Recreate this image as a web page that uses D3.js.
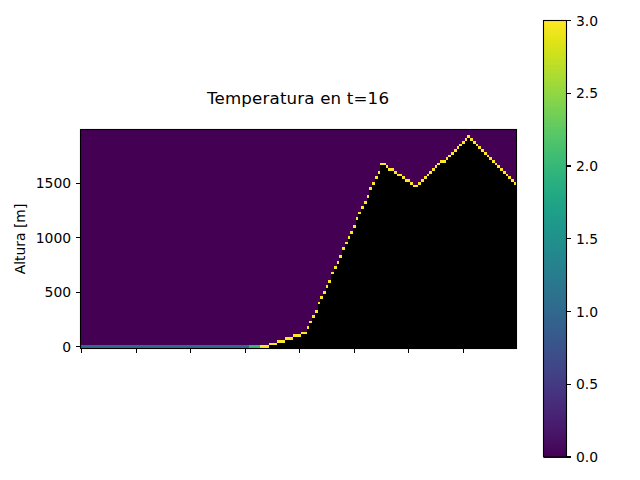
<!DOCTYPE html>
<html>
<head>
<meta charset="utf-8">
<script src="https://d3js.org/d3.v7.min.js"></script>
<style>
  html, body { margin: 0; padding: 0; background: #fff; }
  text { font-family: "DejaVu Sans", sans-serif; fill: #000; }
</style>
</head>
<body>
<svg id="chart" width="640" height="480"></svg>
<script>
// row index of the ground surface in each of the 160 columns
var surfaceRow = [
  0,0,0,0,0,0,0,0,0,0,0,0,0,0,0,0,0,0,0,0,
  0,0,0,0,0,0,0,0,0,0,0,0,0,0,0,0,0,0,0,0,
  0,0,0,0,0,0,0,0,0,0,0,0,0,0,0,0,0,0,0,0,
  0,0,0,0,0,0,0,0,0,1,1,1,2,2,2,3,3,3,4,4,
  4,5,5,7,9,11,13,16,18,20,22,24,27,29,31,33,36,38,40,42,
  44,47,49,51,53,55,58,60,62,64,67,67,66,65,65,64,63,63,62,61,
  61,60,59,59,60,61,62,63,64,65,66,67,68,68,69,70,71,72,73,74,
  75,76,77,76,75,74,73,72,71,70,69,68,67,66,65,64,63,62,61,60
];
// temperature of the surface cell in each column
var surfaceTemp = [
  1,1,1,1,1,1,1,1,1,1,1,1,1,1,1,1,1,1,1,1,
  1,1,1,1,1,1,1,1,1,1,1,1,1,1,1,1,1,1,1,1,
  1,1,1,1,1,1,1,1,1,1,1,1,1,1,1,1,1,1,1,1,
  1,1,2,2,2,2,3,3,3,3,3,3,3,3,3,3,3,3,3,3,
  3,3,3,3,3,3,3,3,3,3,3,3,3,3,3,3,3,3,3,3,
  3,3,3,3,3,3,3,3,3,3,3,3,3,3,3,3,3,3,3,3,
  3,3,3,3,3,3,3,3,3,3,3,3,3,3,3,3,3,3,3,3,
  3,3,3,3,3,3,3,3,3,3,3,3,3,3,3,3,3,3,3,3
];
var airTemp = 0;
var nRows = 80;
var cellSize = 25; // metres per row

var xTicks = [0, 20, 40, 60, 80, 100, 120, 140];
var yTicks = [0, 500, 1000, 1500];
var cbarTicks = [0, 0.5, 1, 1.5, 2, 2.5, 3];
var titleText = "Temperatura en t=16";
var yLabel = "Altura [m]";

var svg = d3.select("#chart");

var x = d3.scaleLinear().domain([-0.5, 159.5]).range([80.5, 516.5]);
var y = d3.scaleLinear().domain([-0.5 * cellSize, (nRows - 0.5) * cellSize]).range([348, 130]);
var color = d3.scaleSequential(d3.interpolateViridis).domain([0, 3]);

// heat map, one rect per cell
var cells = [];
surfaceRow.forEach(function(top, col) {
  d3.range(nRows).forEach(function(row) {
    var fill;
    if (row > top) fill = color(airTemp);
    else if (row == top) fill = color(surfaceTemp[col]);
    else fill = "#000";
    cells.push({col: col, row: row, fill: fill});
  });
});

svg.append("g")
  .attr("shape-rendering", "crispEdges")
  .selectAll("rect")
  .data(cells)
  .enter().append("rect")
  .attr("x", function(d) { return x(d.col - 0.5); })
  .attr("width", function(d) { return x(d.col + 0.5) - x(d.col - 0.5); })
  .attr("y", function(d) { return y((d.row + 0.5) * cellSize); })
  .attr("height", function(d) { return y((d.row - 0.5) * cellSize) - y((d.row + 0.5) * cellSize); })
  .attr("fill", function(d) { return d.fill; });

// frame of the map, half a pixel outside the image
svg.append("rect")
  .attr("x", x.range()[0]).attr("y", y.range()[1] - 0.5)
  .attr("width", x.range()[1] - x.range()[0])
  .attr("height", y.range()[0] - y.range()[1] + 1)
  .attr("fill", "none").attr("stroke", "#000").attr("stroke-width", 1.1);

function styleAxis(g) {
  g.select(".domain").remove();
  g.selectAll("line").attr("stroke", "#000").attr("stroke-width", 1.1).attr("shape-rendering", "crispEdges");
  g.selectAll("text").attr("dy", "0.37em").style("font-size", "13.9px").style("font-family", "DejaVu Sans");
}

svg.append("g")
  .attr("transform", "translate(0,348.5)")
  .call(d3.axisBottom(x).tickValues(xTicks).tickSize(4.9).tickFormat("").offset(0))
  .call(styleAxis);

svg.append("g")
  .attr("transform", "translate(80.5,0)")
  .call(d3.axisLeft(y).tickValues(yTicks).tickSize(4.9).tickPadding(4.5).offset(0))
  .call(function(g) { g.selectAll("text").text(function(d) { return d; }); })
  .call(styleAxis);

svg.append("text")
  .attr("x", 298).attr("y", 104)
  .attr("text-anchor", "middle")
  .attr("textLength", 182)
  .style("font-size", "16.67px")
  .text(titleText);

svg.append("text")
  .attr("transform", "translate(25,239) rotate(-90)")
  .attr("text-anchor", "middle")
  .style("font-size", "13.9px")
  .text(yLabel);

// colorbar
var cbarX = [543.5, 566.5];
var cbarY = d3.scaleLinear().domain([0, 3]).range([457, 20.5]);
var levels = d3.range(256);

svg.append("g")
  .attr("shape-rendering", "crispEdges")
  .selectAll("rect")
  .data(levels)
  .enter().append("rect")
  .attr("x", cbarX[0])
  .attr("width", cbarX[1] - cbarX[0])
  .attr("y", function(d) { return cbarY((d + 1) / 256 * 3); })
  .attr("height", function(d) { return cbarY(d / 256 * 3) - cbarY((d + 1) / 256 * 3) + 0.5; })
  .attr("fill", function(d) { return color((d + 0.5) / 256 * 3); });

svg.append("rect")
  .attr("x", cbarX[0]).attr("y", cbarY.range()[1])
  .attr("width", cbarX[1] - cbarX[0])
  .attr("height", cbarY.range()[0] - cbarY.range()[1])
  .attr("fill", "none").attr("stroke", "#000").attr("stroke-width", 1.1);

svg.append("g")
  .attr("transform", "translate(" + cbarX[1] + ",0)")
  .call(d3.axisRight(cbarY).tickValues(cbarTicks).tickSize(4.9).tickPadding(4.5).tickFormat(d3.format(".1f")).offset(0))
  .call(styleAxis);
</script>
</body>
</html>
